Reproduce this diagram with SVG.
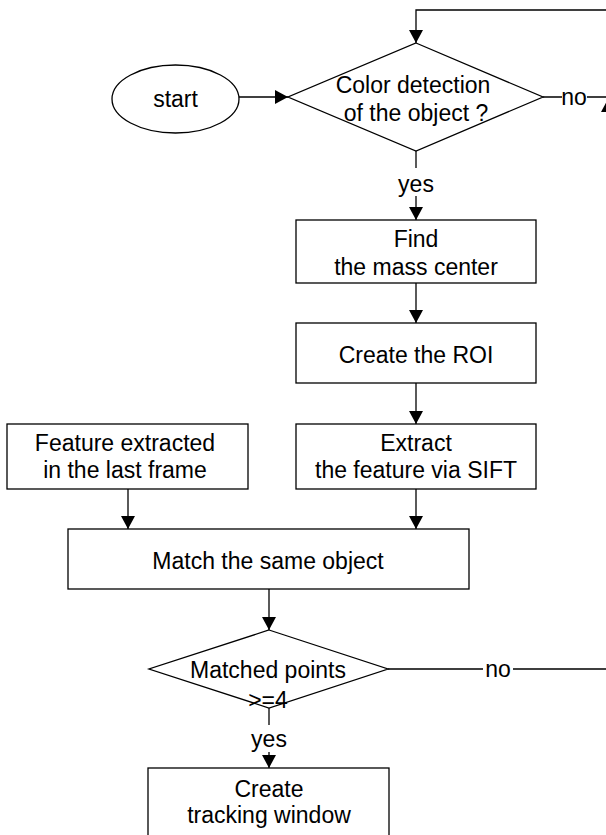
<svg xmlns="http://www.w3.org/2000/svg" width="606" height="835" viewBox="0 0 606 835">
<style>
.s{fill:#fff;stroke:#000;stroke-width:1.3}
.c{fill:none;stroke:#000;stroke-width:1.3}
text{font-family:"Liberation Sans",Arial,sans-serif;font-size:23px;fill:#000;text-anchor:middle}
</style>
<defs>
<marker id="a" viewBox="0 0 13 14" refX="13" refY="7" markerWidth="13" markerHeight="14" orient="auto" markerUnits="userSpaceOnUse">
<path d="M0,0 L13,7 L0,14 z" fill="#000"/>
</marker>
</defs>
<g id="connectors">
<path class="c" d="M239,97 H288" marker-end="url(#a)"/>
<path class="c" d="M608,97 V10 H416 V43" marker-end="url(#a)"/>
<path class="c" d="M543,97 H562 M587,97 H608"/>
<path class="c" d="M388,669 H483 M513,669 H608"/>
<path class="c" d="M608,669 V99" marker-end="url(#a)"/>
<path class="c" d="M416,150 V168"/>
<path class="c" d="M416,196 V220" marker-end="url(#a)"/>
<path class="c" d="M416,283 V323" marker-end="url(#a)"/>
<path class="c" d="M416,383 V424" marker-end="url(#a)"/>
<path class="c" d="M128,489 V529" marker-end="url(#a)"/>
<path class="c" d="M416,489 V529" marker-end="url(#a)"/>
<path class="c" d="M269,589 V630" marker-end="url(#a)"/>
<path class="c" d="M269,708 V725"/>
<path class="c" d="M269,752 V768" marker-end="url(#a)"/>
<text x="574" y="105">no</text>
<text x="498" y="677">no</text>
<text x="416" y="192">yes</text>
<text x="269" y="747">yes</text>
</g>
<g id="start">
<ellipse class="s" cx="175.5" cy="99" rx="63.5" ry="34"/>
<text x="175.5" y="107">start</text>
</g>
<g id="color-detection">
<polygon class="s" points="416,43 543,97 416,151 288,97"/>
<text x="413" y="93">Color detection</text>
<text x="416" y="121">of the object ?</text>
</g>
<g id="find-center">
<rect class="s" x="296" y="220" width="240" height="63"/>
<text x="416" y="247">Find</text>
<text x="416" y="275">the mass center</text>
</g>
<g id="create-roi">
<rect class="s" x="296" y="323" width="240" height="60"/>
<text x="416" y="363">Create the ROI</text>
</g>
<g id="feature-last">
<rect class="s" x="7" y="424" width="241" height="65"/>
<text x="125" y="451">Feature extracted</text>
<text x="125" y="478">in the last frame</text>
</g>
<g id="extract">
<rect class="s" x="296" y="424" width="240" height="65"/>
<text x="416" y="451">Extract</text>
<text x="416" y="478">the feature via SIFT</text>
</g>
<g id="match">
<rect class="s" x="68" y="529" width="401" height="60"/>
<text x="268" y="569">Match the same object</text>
</g>
<g id="matched-points">
<polygon class="s" points="269,630 388,669 269,708 149,669"/>
<text x="268" y="678">Matched points</text>
<text x="268" y="708">&gt;=4</text>
</g>
<g id="tracking-window">
<rect class="s" x="148" y="768" width="241" height="80"/>
<text x="269" y="797">Create</text>
<text x="269" y="823">tracking window</text>
</g>
</svg>
